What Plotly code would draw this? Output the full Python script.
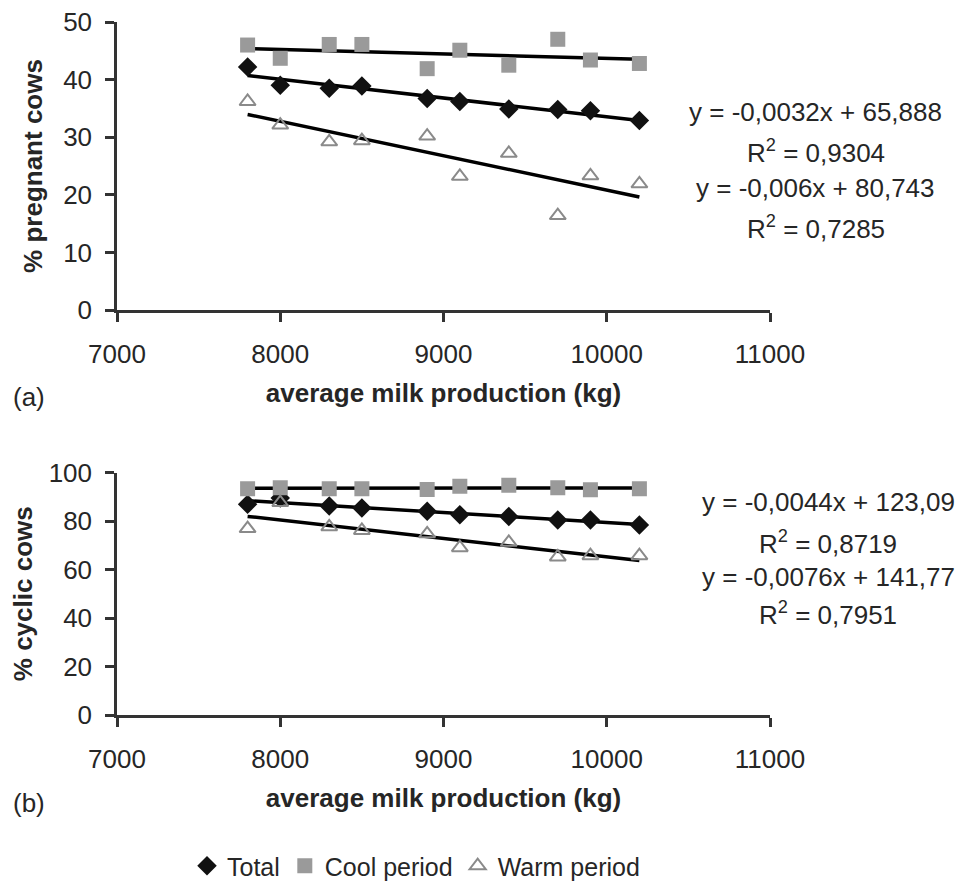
import numpy as np
import plotly.graph_objects as go
from plotly.subplots import make_subplots

# ---- data ----
milk = [7800, 8000, 8300, 8500, 8900, 9100, 9400, 9700, 9900, 10200]

preg_total = [42.2, 39.0, 38.5, 38.9, 36.7, 36.2, 34.9, 34.8, 34.6, 32.9]
preg_cool = [46.0, 43.7, 46.1, 46.1, 41.9, 45.1, 42.5, 47.0, 43.4, 42.8]
preg_warm = [36.2, 32.1, 29.2, 29.4, 30.2, 23.2, 27.2, 16.4, 23.3, 21.9]

cyc_total = [86.9, 89.5, 86.2, 85.4, 84.0, 82.6, 81.9, 80.4, 80.4, 78.3]
cyc_cool = [93.3, 93.7, 93.3, 93.3, 93.0, 94.3, 94.7, 93.7, 92.9, 93.3]
cyc_warm = [76.9, 87.6, 77.6, 76.1, 74.7, 69.0, 71.2, 65.2, 65.7, 65.7]

eq_a = ["y = -0,0032x + 65,888", "R<sup>2</sup> = 0,9304",
        "y = -0,006x + 80,743", "R<sup>2</sup> = 0,7285"]
eq_b = ["y = -0,0044x + 123,09", "R<sup>2</sup> = 0,8719",
        "y = -0,0076x + 141,77", "R<sup>2</sup> = 0,7951"]

x_ticks = [7000, 8000, 9000, 10000, 11000]
x_ticktext = ["7000", "8000", "9000", "10000", "11000"]
ya_ticks = [0, 10, 20, 30, 40, 50]
yb_ticks = [0, 20, 40, 60, 80, 100]

FONT = "Arial, Liberation Sans, sans-serif"
TXT = "#262626"
FS = 26

fig = make_subplots(rows=2, cols=1)
# the page body adds an 8px offset; compensate so the picture lines up
OFF = 8
TOP = 22
W, H = 973 - OFF, 884 - OFF
L, T = 117 - OFF, TOP - OFF
R = W - (770 - OFF)
B = H - (715 - OFF)
ph = H - T - B


def py(p):
    return (715 - p) / ph


def px(p):
    return (p - 117) / (770 - 117)


styles = {
    "Total": dict(symbol="diamond", size=15, color="#111111", line=dict(width=0)),
    "Cool period": dict(symbol="square", size=15, color="#9a9a9a", line=dict(width=0)),
    "Warm period": dict(symbol="triangle-up-open", size=14, color="#8a8a8a",
                        line=dict(width=2, color="#8a8a8a")),
}

panels = [
    (1, [("Total", preg_total), ("Cool period", preg_cool), ("Warm period", preg_warm)]),
    (2, [("Total", cyc_total), ("Cool period", cyc_cool), ("Warm period", cyc_warm)]),
]

xs = np.array(milk, dtype=float)
for row, series in panels:
    for name, vals in series:
        k, c = np.polyfit(xs, np.array(vals), 1)
        xl = np.array([xs.min(), xs.max()])
        fig.add_trace(go.Scatter(x=xl, y=k * xl + c, mode="lines",
                                 line=dict(color="black", width=3.5),
                                 showlegend=False, hoverinfo="skip"),
                      row=row, col=1)
    for name, vals in series:
        fig.add_trace(go.Scatter(x=milk, y=vals, mode="markers", name=name,
                                 marker=styles[name], showlegend=(row == 1)),
                      row=row, col=1)

axis_common = dict(showline=True, linecolor="#333333", linewidth=2.5,
                   showgrid=False, zeroline=False, ticks="outside",
                   tickcolor="#333333", tickwidth=2.5, ticklen=9,
                   ticklabeloverflow="allow",
                   tickfont=dict(family=FONT, size=FS, color=TXT))

fig.update_xaxes(**axis_common, range=[7000, 11000], tickvals=x_ticks, ticktext=x_ticktext,
                 ticklabelstandoff=10,
                 title=dict(text="<b>average milk production (kg)</b>",
                            font=dict(family=FONT, size=FS, color=TXT), standoff=16))
fig.update_yaxes(**axis_common, ticklabelstandoff=8)

fig.update_layout(
    xaxis=dict(domain=[0, 1]),
    xaxis2=dict(domain=[0, 1]),
    yaxis=dict(domain=[py(310), 1], range=[0, 50], tickvals=ya_ticks,
               title=dict(text="<b>% pregnant cows</b>",
                          font=dict(family=FONT, size=FS, color=TXT), standoff=14)),
    yaxis2=dict(domain=[0, py(472.5)], range=[0, 100], tickvals=yb_ticks,
                title=dict(text="<b>% cyclic cows</b>",
                           font=dict(family=FONT, size=FS, color=TXT), standoff=14)),
)

annotations = []
for t, yp in zip(eq_a, [112, 151, 188, 227]):
    annotations.append(dict(text=t, x=px(816), y=py(yp), xref="paper", yref="paper",
                            showarrow=False, xanchor="center", yanchor="middle",
                            font=dict(family=FONT, size=FS, color=TXT)))
for t, yp in zip(eq_b, [502, 542, 577, 613]):
    annotations.append(dict(text=t, x=px(828), y=py(yp), xref="paper", yref="paper",
                            showarrow=False, xanchor="center", yanchor="middle",
                            font=dict(family=FONT, size=FS, color=TXT)))
annotations.append(dict(text="(a)", x=px(11), y=py(397), xref="paper", yref="paper",
                        showarrow=False, xanchor="left", yanchor="middle",
                        font=dict(family=FONT, size=FS, color=TXT)))
annotations.append(dict(text="(b)", x=px(11), y=py(803), xref="paper", yref="paper",
                        showarrow=False, xanchor="left", yanchor="middle",
                        font=dict(family=FONT, size=FS, color=TXT)))

fig.update_layout(
    width=W, height=H,
    margin=dict(l=L, r=R, t=T, b=B, pad=0, autoexpand=False),
    paper_bgcolor="white", plot_bgcolor="white",
    annotations=annotations,
    legend=dict(orientation="h", x=px(187), y=py(866), xanchor="left", yanchor="middle",
                font=dict(family=FONT, size=25, color=TXT), itemwidth=30,
                tracegroupgap=0),
    font=dict(family=FONT, color=TXT),
)

fig.write_html("out.html")
